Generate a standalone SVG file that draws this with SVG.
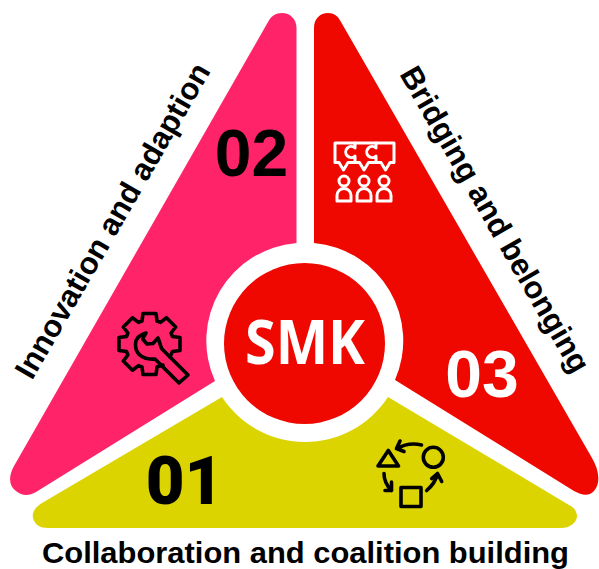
<svg xmlns="http://www.w3.org/2000/svg" width="599" height="569" viewBox="0 0 599 569">
<style>
.lab{font-family:"Liberation Sans",Arial,sans-serif;font-weight:700;font-size:31px;fill:#000}
.num{font-family:"Liberation Sans",Arial,sans-serif;font-weight:700;font-size:66px;text-anchor:middle}
.ik{fill:none;stroke-width:3.600;stroke-linejoin:round;stroke-linecap:round}
</style>
<rect width="599" height="569" fill="#fff"/>
<g id="node-02">
<path d="M296.500 243V28C296.500 19 290 13 282 13C276 13 271 16 268 22L14 466C8 477 9 486 16 491C22 496 29 496 36 492L215 381A98 98 0 0 1 296.500 243Z" fill="#ff2469"/>
<text class="num" x="251.500" y="176" fill="#000">02</text>
<text class="lab" transform="translate(32 381) rotate(-60)">Innovation and adaption</text>
<g class="ik" stroke="#000" id="icon-gear">
<path d="M163 365L157 367L156 374.500H143L142 367L138.500 365.600L132.500 370.200L123.300 361L127.900 355L126.500 351.500L119 350.500V337.500L126.500 336.500L127.900 333L123.300 327L132.500 317.800L138.500 322.400L142 321L143 313.500H156L157 321L160.500 322.400L166.500 317.800L175.700 327L171 333L172.500 336.500L180 337.500V350.500L172.500 351.500L170 357"/>
<path d="M146 333L142.700 339L147 344L153 343.500L158 338C160 342 160 346 162 349L188 375L179 383L155 359C143 360 135 354 135.500 344C135.500 339 139 335 146 333Z"/>
</g>
</g>
<g id="node-03">
<path d="M314 243V28C314 19 320 13 328 13C334 13 338 16 341 22L592 458C599 470 601 483 594 491C588 497 582 495 574 491L395 380A98 98 0 0 0 314 243Z" fill="#ee0800"/>
<text class="num" x="482" y="397" fill="#fff">03</text>
<text class="lab" transform="translate(399 74) rotate(60)">Bridging and belonging</text>
<g class="ik" stroke="#fff" id="icon-people" style="stroke-width:3">
<path d="M335 143H394V162.500H390L385.500 170L381 162.500H368.500L364 170L359.500 162.500H348L343.500 170L339 162.500H335Z"/>
<path d="M355 143V148A5.500 5.500 0 1 0 355 156V162.500M376 143V148A5.500 5.500 0 1 0 376 156V162.500"/>
<circle cx="344" cy="181" r="5"/><circle cx="364" cy="181" r="5"/><circle cx="384" cy="181" r="5"/>
<path d="M337 201V195.500A7 7 0 0 1 351 195.500V201ZM357 201V195.500A7 7 0 0 1 371 195.500V201ZM377 201V195.500A7 7 0 0 1 391 195.500V201Z"/>
</g>
</g>
<g id="node-01">
<path d="M222 397L42 503C34 508 32 513 33 518C35 525 40 528 48 528H561C570 528 576 523 577 517C577 512 575 508 569 505L388 397A99 99 0 0 1 222 397Z" fill="#dcd400"/>
<text class="num" x="184.500" y="504" fill="#000" style="font-family:Roboto,'Liberation Sans',sans-serif;font-weight:900;font-size:67px">01</text>
<text class="lab" x="305.500" y="563" text-anchor="middle" style="font-size:30px" textLength="527" lengthAdjust="spacingAndGlyphs">Collaboration and coalition building</text>
<g class="ik" stroke="#000" id="icon-shapes">
<path d="M388.300 450.500L398.500 466H378Z"/>
<circle cx="433.300" cy="457.300" r="10"/>
<rect x="401" y="487.500" width="20" height="19"/>
<path d="M421.500 445C413 443 405 444 397 448.500M400 441L396.500 448.500L404 451.500"/>
<path d="M384 473.500C384 480 387 486 391.500 490.500M385 490.500L391.500 490.500L391.500 482"/>
<path d="M426.700 490.500C432 486 436 480 437.500 473.500M431.700 478.500L437.500 473.500L441.700 481.500"/>
</g>
</g>
<g id="node-smk">
<circle cx="304.500" cy="343.500" r="80.500" fill="#ee0800"/>
<text x="305" y="363.500" text-anchor="middle" font-family="'Open Sans',sans-serif" font-weight="700" font-size="60" textLength="120" lengthAdjust="spacingAndGlyphs" fill="#fff">SMK</text>
</g>
<g id="connectors"/>
</svg>
